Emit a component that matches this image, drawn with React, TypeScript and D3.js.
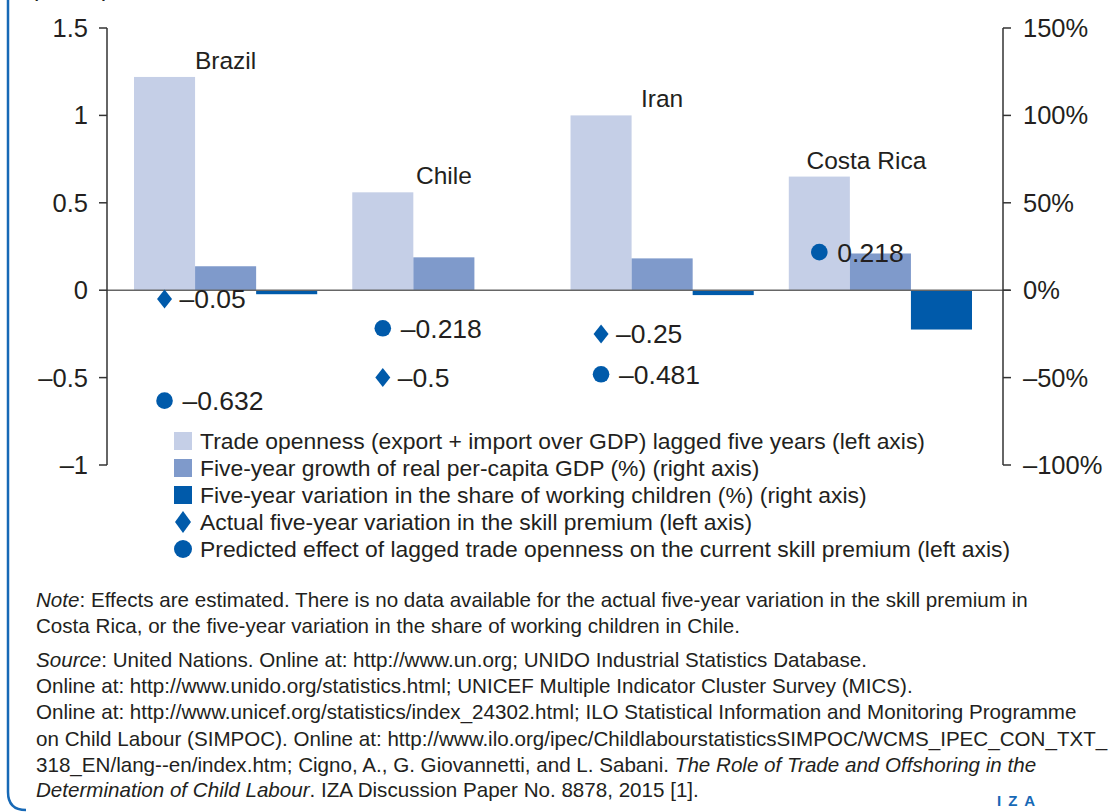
import React from 'react';
import * as d3 from 'd3';

const categories = ['Brazil', 'Chile', 'Iran', 'Costa Rica'];
const tradeOpenness = [1.22, 0.56, 1.0, 0.65];
const gdpGrowth = [13.7, 18.8, 18.2, 21.0];
const childWork: (number | null)[] = [-2.3, null, -2.8, -22.5];
const actualPremium: (number | null)[] = [-0.05, -0.5, -0.25, null];
const predictedEffect = [-0.632, -0.218, -0.481, 0.218];

const leftTicks = [-1, -0.5, 0, 0.5, 1, 1.5];
const rightTicks = [-100, -50, 0, 50, 100, 150];

const legendItems = [
  'Trade openness (export + import over GDP) lagged five years (left axis)',
  'Five-year growth of real per-capita GDP (%) (right axis)',
  'Five-year variation in the share of working children (%) (right axis)',
  'Actual five-year variation in the skill premium (left axis)',
  'Predicted effect of lagged trade openness on the current skill premium (left axis)',
];

const noteLines = [
  'Effects are estimated. There is no data available for the actual five-year variation in the skill premium in',
  'Costa Rica, or the five-year variation in the share of working children in Chile.',
];
const sourceLines = [
  'United Nations. Online at: http://www.un.org; UNIDO Industrial Statistics Database.',
  'Online at: http://www.unido.org/statistics.html; UNICEF Multiple Indicator Cluster Survey (MICS).',
  'Online at: http://www.unicef.org/statistics/index_24302.html; ILO Statistical Information and Monitoring Programme',
  'on Child Labour (SIMPOC). Online at: http://www.ilo.org/ipec/ChildlabourstatisticsSIMPOC/WCMS_IPEC_CON_TXT_',
];

const LIGHT = '#c5cfe7';
const MID = '#7f9acb';
const DARK = '#005aaa';
const TEXT = '#231f20';
const FONT = '"Liberation Sans", Arial, sans-serif';

const fmt = (v: number) => (v < 0 ? '\u2013' + String(Math.abs(v)) : String(v));

const diamond = (cx: number, cy: number, w = 7.5, h = 9.5) =>
  `M${cx},${cy - h}L${cx + w},${cy}L${cx},${cy + h}L${cx - w},${cy}Z`;

export default function App() {
  const yL = d3.scaleLinear().domain([-1, 1.5]).range([465, 28]);
  const yR = d3.scaleLinear().domain([-100, 150]).range([465, 28]);
  const x0 = d3.scaleBand().domain(categories).range([134, 972]).paddingInner(0.1606);
  const x1 = d3.scaleBand().domain(['a', 'b', 'c']).range([0, x0.bandwidth()]);
  const axL = 107;
  const axR = 1003;

  const bars = categories.flatMap((c, i) => {
    const out: { key: string; x: number; y0: number; y1: number; fill: string }[] = [];
    out.push({ key: c + 'a', x: x0(c)! + x1('a')!, y0: yL(0), y1: yL(tradeOpenness[i]), fill: LIGHT });
    out.push({ key: c + 'b', x: x0(c)! + x1('b')!, y0: yR(0), y1: yR(gdpGrowth[i]), fill: MID });
    const cw = childWork[i];
    if (cw != null) out.push({ key: c + 'c', x: x0(c)! + x1('c')!, y0: yR(0), y1: yR(cw), fill: DARK });
    return out;
  });

  const mx = (c: string) => x0(c)! + x1('a')! + x1.bandwidth() / 2;

  return (
    <svg width={1114} height={812} style={{ position: 'absolute', left: 0, top: 0 }} fontFamily={FONT}>
      <rect width={1114} height={812} fill="#fff" />
      <path d="M8,0V792Q8,810 26,810" fill="none" stroke="#1769b6" strokeWidth={2.5} />
      <text x={34} y={-4} fontSize={24} fill={TEXT}>per capita</text>

      {bars.map((b) => (
        <rect key={b.key} x={b.x} width={x1.bandwidth()} y={Math.min(b.y0, b.y1)} height={Math.abs(b.y1 - b.y0)} fill={b.fill} />
      ))}

      <line x1={axL} x2={axR + 7} y1={yL(0)} y2={yL(0)} stroke="#666" strokeWidth={1.5} />
      <line x1={axL} x2={axL} y1={yL(1.5)} y2={yL(-1)} stroke="#333" strokeWidth={1.5} />
      <line x1={axR} x2={axR} y1={yR(150)} y2={yR(-100)} stroke="#333" strokeWidth={1.5} />
      {leftTicks.map((t) => (
        <g key={'l' + t}>
          <line x1={axL - 8} x2={axL} y1={yL(t)} y2={yL(t)} stroke="#333" strokeWidth={1.5} />
          <text x={axL - 19} y={yL(t)} dy="0.35em" textAnchor="end" fontSize={25.5} fill={TEXT}>{fmt(t)}</text>
        </g>
      ))}
      {rightTicks.map((t) => (
        <g key={'r' + t}>
          <line x1={axR} x2={axR + 8} y1={yR(t)} y2={yR(t)} stroke="#333" strokeWidth={1.5} />
          <text x={axR + 20} y={yR(t)} dy="0.35em" fontSize={25.5} fill={TEXT}>{fmt(t) + '%'}</text>
        </g>
      ))}

      {categories.map((c, i) => (
        <text key={c} x={x0(c)! + x1('b')! + x1.bandwidth() / 2 - (i === 3 ? 14 : 0)} y={yL(tradeOpenness[i]) - 8} textAnchor="middle" fontSize={24.5} fill={TEXT}>{c}</text>
      ))}

      {categories.map((c, i) => {
        const v = actualPremium[i];
        if (v == null) return null;
        return (
          <g key={'d' + c}>
            <path d={diamond(mx(c), yL(v))} fill={DARK} />
            <text x={mx(c) + 15} y={yL(v)} dy="0.36em" fontSize={26.5} fill={TEXT}>{fmt(v)}</text>
          </g>
        );
      })}
      {categories.map((c, i) => {
        const v = predictedEffect[i];
        return (
          <g key={'p' + c}>
            <circle cx={mx(c)} cy={yL(v)} r={8.3} fill={DARK} />
            <text x={mx(c) + 18} y={yL(v)} dy="0.36em" fontSize={26.5} fill={TEXT}>{fmt(v)}</text>
          </g>
        );
      })}

      {legendItems.map((t, i) => {
        const cy = 441 + i * 27;
        const fill = [LIGHT, MID, DARK, DARK, DARK][i];
        return (
          <g key={t}>
            {i < 3 && <rect x={174} y={cy - 9} width={18} height={18} fill={fill} />}
            {i === 3 && <path d={diamond(183, cy, 8, 11)} fill={DARK} />}
            {i === 4 && <circle cx={183} cy={cy} r={9} fill={DARK} />}
            <text x={200} y={cy} dy="0.35em" fontSize={22.9} fill={TEXT}>{t}</text>
          </g>
        );
      })}

      <g fontSize={20.6} fill={TEXT}>
        <text x={36} y={607}><tspan fontStyle="italic">Note</tspan>{': ' + noteLines[0]}</text>
        <text x={36} y={633}>{noteLines[1]}</text>
        <text x={36} y={667}><tspan fontStyle="italic">Source</tspan>{': ' + sourceLines[0]}</text>
        {sourceLines.slice(1).map((l, i) => (
          <text key={l} x={36} y={693 + i * 26.3}>{l}</text>
        ))}
        <text x={36} y={772}>
          {'318_EN/lang--en/index.htm; Cigno, A., G. Giovannetti, and L. Sabani. '}
          <tspan fontStyle="italic">The Role of Trade and Offshoring in the</tspan>
        </text>
        <text x={36} y={797}>
          <tspan fontStyle="italic">Determination of Child Labour</tspan>
          {'. IZA Discussion Paper No. 8878, 2015 [1].'}
        </text>
      </g>
      <text x={997} y={806} fontSize={15} fontWeight="bold" fill="#1769b6" letterSpacing={7}>IZA</text>
    </svg>
  );
}
